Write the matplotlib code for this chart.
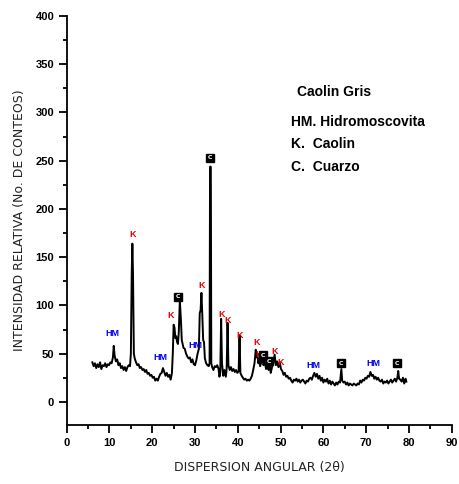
import matplotlib
matplotlib.use("Agg")
import matplotlib.pyplot as plt
from matplotlib.ticker import MultipleLocator

# ---------------- data ----------------
two_theta = [6.0, 6.3, 6.6, 6.9, 7.2, 7.5, 7.8, 8.1, 8.4, 8.7, 9.0, 9.3, 9.6, 9.9, 10.2, 10.5,
             10.8, 11.0, 11.2, 11.5, 11.8, 12.1, 12.4, 12.7, 13.0, 13.3, 13.6, 13.9, 14.2, 14.5,
             14.8, 15.0, 15.2, 15.35, 15.5, 15.7, 15.9, 16.2, 16.5, 16.8, 17.1, 17.4, 17.7, 18.0,
             18.3, 18.6, 18.9, 19.2, 19.5, 19.8, 20.1, 20.4, 20.7, 21.0, 21.3, 21.6, 21.9, 22.2,
             22.5, 22.8, 23.1, 23.4, 23.7, 24.0, 24.3, 24.6, 24.8, 25.0, 25.2, 25.4, 25.6, 25.8,
             26.0, 26.2, 26.45, 26.7, 26.9, 27.1, 27.3, 27.6, 27.9, 28.2, 28.5, 28.8, 29.1, 29.4,
             29.7, 30.0, 30.3, 30.6, 30.9, 31.1, 31.3, 31.5, 31.7, 31.9, 32.1, 32.3, 32.6, 32.9,
             33.2, 33.4, 33.5, 33.6, 33.7, 33.8, 34.0, 34.3, 34.6, 34.9, 35.2, 35.5, 35.7, 35.9,
             36.1, 36.3, 36.6, 36.9, 37.2, 37.4, 37.6, 37.8, 38.1, 38.4, 38.7, 39.0, 39.3, 39.6,
             39.9, 40.2, 40.4, 40.6, 40.9, 41.2, 41.5, 41.8, 42.1, 42.4, 42.7, 43.0, 43.3, 43.6,
             43.9, 44.2, 44.4, 44.6, 44.8, 45.0, 45.2, 45.5, 45.8, 46.0, 46.3, 46.6, 46.9, 47.2,
             47.4, 47.7, 48.0, 48.3, 48.6, 48.9, 49.2, 49.5, 49.8, 50.1, 50.4, 50.7, 51.0, 51.3,
             51.6, 51.9, 52.2, 52.5, 52.8, 53.1, 53.4, 53.7, 54.0, 54.3, 54.6, 54.9, 55.2, 55.5,
             55.8, 56.1, 56.4, 56.7, 57.0, 57.3, 57.6, 57.9, 58.2, 58.5, 58.8, 59.1, 59.4, 59.7,
             60.0, 60.3, 60.6, 60.9, 61.2, 61.5, 61.8, 62.1, 62.4, 62.7, 63.0, 63.3, 63.6, 63.9,
             64.2, 64.4, 64.7, 65.0, 65.3, 65.6, 65.9, 66.2, 66.5, 66.8, 67.1, 67.4, 67.7, 68.0,
             68.3, 68.6, 68.9, 69.2, 69.5, 69.8, 70.1, 70.4, 70.7, 71.0, 71.3, 71.6, 71.9, 72.2,
             72.5, 72.8, 73.1, 73.4, 73.7, 74.0, 74.3, 74.6, 74.9, 75.2, 75.5, 75.8, 76.1, 76.4,
             76.7, 77.0, 77.3, 77.5, 77.7, 78.0, 78.3, 78.6, 78.9, 79.2, 79.4]
intensity = [41, 37, 40, 35, 39, 36, 41, 34, 38, 37, 40, 36, 39, 38, 41, 40,
             46, 58, 48, 42, 44, 38, 40, 35, 37, 33, 36, 32, 36, 38,
             37, 50, 133, 164, 133, 50, 45, 41, 38, 39, 35, 36, 33, 34,
             31, 33, 29, 30, 27, 28, 25, 26, 22, 24, 22, 26, 29, 30,
             35, 31, 27, 30, 26, 28, 23, 30, 50, 80, 77, 66, 68, 62,
             60, 72, 105, 85, 64, 60, 56, 55, 50, 47, 45, 46, 41, 44,
             39, 38, 43, 50, 55, 92, 95, 113, 90, 64, 62, 45, 40, 38,
             37, 40, 227, 244, 227, 40, 36, 33, 37, 36, 38, 34, 26, 30,
             86, 40, 27, 33, 26, 35, 82, 38, 33, 36, 32, 34, 31, 33,
             30, 32, 69, 30, 27, 25, 23, 24, 22, 23, 22, 24, 27, 33,
             40, 54, 46, 50, 40, 44, 37, 41, 46, 38, 42, 34, 39, 33,
             42, 30, 36, 40, 49, 38, 42, 36, 41, 34, 32, 28, 30, 26,
             27, 24, 25, 22, 20, 23, 22, 24, 21, 23, 20, 22, 23, 21,
             19, 22, 21, 24, 25, 23, 27, 30, 26, 29, 24, 27, 22, 25,
             20, 23, 21, 24, 19, 22, 18, 21, 19, 17, 20, 18, 21, 20,
             34, 22, 20, 21, 18, 20, 17, 19, 18, 17, 19, 18, 17, 19,
             18, 22, 20, 23, 22, 25, 24, 27, 26, 31, 27, 28, 24, 26,
             23, 25, 22, 21, 23, 19, 21, 20, 22, 19, 21, 23, 20, 22,
             24, 21, 25, 32, 24, 23, 21, 25, 19, 24, 21]

# peak labels: (text, x, y)
label_text = ["HM", "K", "HM", "K", "C", "HM", "K", "C", "K", "K", "K", "K", "K", "C", "C",
              "K", "K", "HM", "C", "HM", "C"]
label_x = [10.6, 15.5, 21.9, 24.4, 26.0, 30.0, 31.6, 33.5, 36.1, 37.7, 40.5, 44.3, 44.8, 45.9,
           47.4, 48.5, 50.1, 57.6, 64.1, 71.6, 77.2]
label_y = [71, 173, 46, 89, 109, 58, 121, 253, 91, 84, 69, 62, 49, 48, 42, 52, 41, 38, 40, 40, 40]

legend_lines = ["Caolin Gris", "HM. Hidromoscovita", "K.  Caolin", "C.  Cuarzo"]

xlabel = "DISPERSION ANGULAR (2θ)"
ylabel = "INTENSIDAD RELATIVA (No. DE CONTEOS)"

# ---------------- figure ----------------
W, H = 459, 484
fig = plt.figure(figsize=(W / 100, H / 100), dpi=100)
ax = fig.add_axes([66.7 / W, 1 - 425 / H, (451.7 - 66.7) / W, (425 - 16) / H])

ax.plot(two_theta, intensity, color="black", lw=1.4)

ax.set_xlim(0, 90)
ax.set_ylim(-24, 400)
ax.xaxis.set_major_locator(MultipleLocator(10))
ax.xaxis.set_minor_locator(MultipleLocator(5))
ax.yaxis.set_major_locator(MultipleLocator(50))
ax.yaxis.set_minor_locator(MultipleLocator(25))
for s in ["top", "right"]:
    ax.spines[s].set_visible(False)
for s in ["left", "bottom"]:
    ax.spines[s].set_linewidth(1.3)
ax.tick_params(which="major", direction="out", length=6, width=1.3, pad=3)
ax.tick_params(which="minor", direction="out", length=3, width=1.3)
for lab in ax.get_xticklabels() + ax.get_yticklabels():
    lab.set_fontfamily("Liberation Sans")
    lab.set_fontweight("bold")
    lab.set_fontsize(8)

ax.set_xlabel(xlabel, fontsize=9, family="DejaVu Sans", labelpad=10, color="#222222")
ax.set_ylabel(ylabel, fontsize=9, family="DejaVu Sans", labelpad=7, color="#222222")

colors = {"K": "#e00000", "HM": "#0000ee"}
for t, x, y in zip(label_text, label_x, label_y):
    if t == "C":
        ax.text(x, y, "C", ha="center", va="center", fontsize=4.5, color="white",
                fontweight="bold",
                bbox=dict(boxstyle="square,pad=0.25", fc="black", ec="black"))
    else:
        ax.text(x, y, t, ha="center", va="center", fontsize=6.5, color=colors[t],
                fontweight="bold", family="Liberation Sans")

# legend-like text block
ys = [92, 122, 144, 167]
xs = [297, 291, 291, 291]
for t, x, y in zip(legend_lines, xs, ys):
    fig.text(x / W, 1 - y / H, t, fontsize=10, fontweight="bold",
             family="Liberation Sans", va="center", ha="left")

fig.savefig("out.png", dpi=100)
